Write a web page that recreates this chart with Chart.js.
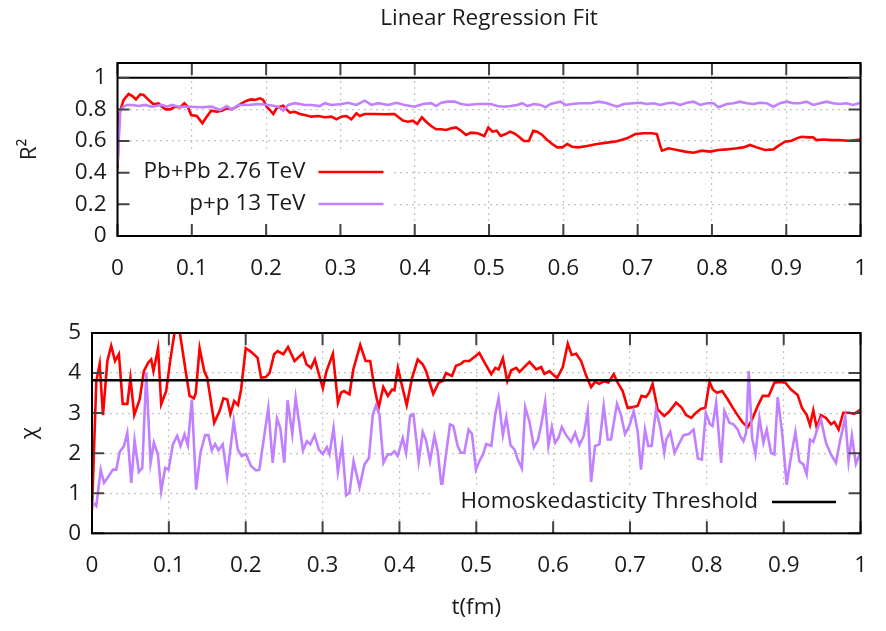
<!DOCTYPE html>
<html>
<head>
<meta charset="utf-8">
<title>Linear Regression Fit</title>
<script src="https://cdn.jsdelivr.net/npm/chart.js@4.4.1/dist/chart.umd.min.js"></script>
<style>
  html, body { margin: 0; padding: 0; background: #fff; }
  #wrap { position: relative; width: 886px; height: 631px; }
  #topBox { position: absolute; left: 0; top: 0; width: 886px; height: 300px; }
  #botBox { position: absolute; left: 0; top: 300px; width: 886px; height: 331px; }
</style>
</head>
<body>
<div id="wrap">
  <div id="topBox"><canvas id="r2Chart"></canvas></div>
  <div id="botBox"><canvas id="chiChart"></canvas></div>
</div>
<script>
// values, [t (fm), value]
const xTicks = [0, 0.1, 0.2, 0.3, 0.4, 0.5, 0.6, 0.7, 0.8, 0.9, 1];
const r2Ticks = [0, 0.2, 0.4, 0.6, 0.8, 1];
const chiTicks = [0, 1, 2, 3, 4, 5];

const r2Reference = 1;
const chiThreshold = 3.82;

const pbpbR2 = [
  [0,0.42],[0.0025,0.775],[0.0083,0.86],[0.015,0.897],[0.02,0.884],[0.0248,0.863],[0.0306,0.895],[0.0351,0.891],
  [0.0418,0.86],[0.0485,0.832],[0.0553,0.838],[0.0597,0.817],[0.0651,0.8],[0.0709,0.8],[0.0776,0.817],[0.0843,0.813],
  [0.0901,0.838],[0.0946,0.817],[0.0991,0.764],[0.1067,0.758],[0.1143,0.712],[0.1201,0.754],[0.126,0.792],[0.1336,0.785],
  [0.1403,0.792],[0.147,0.807],[0.1537,0.8],[0.1604,0.817],[0.1671,0.838],[0.1738,0.855],[0.1796,0.863],[0.185,0.86],
  [0.1917,0.87],[0.1962,0.86],[0.2007,0.817],[0.2051,0.796],[0.2096,0.771],[0.2141,0.807],[0.2186,0.817],[0.223,0.823],
  [0.2275,0.8],[0.232,0.779],[0.2387,0.785],[0.2454,0.771],[0.2521,0.764],[0.261,0.754],[0.27,0.758],[0.279,0.75],
  [0.288,0.754],[0.2946,0.737],[0.3013,0.754],[0.308,0.758],[0.3148,0.737],[0.3215,0.775],[0.326,0.758],[0.3327,0.771],
  [0.346,0.771],[0.3595,0.769],[0.3729,0.771],[0.3783,0.75],[0.3841,0.729],[0.3908,0.722],[0.3975,0.729],[0.4034,0.708],
  [0.4096,0.75],[0.4154,0.722],[0.4221,0.695],[0.4289,0.674],[0.4356,0.674],[0.4423,0.67],[0.449,0.68],[0.4557,0.686],
  [0.4624,0.665],[0.4691,0.638],[0.4758,0.653],[0.4848,0.649],[0.4937,0.632],[0.4991,0.686],[0.5045,0.659],[0.5103,0.665],
  [0.5157,0.632],[0.5224,0.644],[0.5282,0.659],[0.5336,0.649],[0.5403,0.627],[0.547,0.6],[0.5537,0.6],[0.5595,0.665],
  [0.5649,0.659],[0.5716,0.638],[0.5784,0.606],[0.5851,0.581],[0.5918,0.56],[0.5985,0.56],[0.6052,0.581],[0.6119,0.564],
  [0.6208,0.56],[0.632,0.569],[0.6454,0.581],[0.6588,0.59],[0.6723,0.598],[0.6857,0.617],[0.6969,0.644],[0.7081,0.649],
  [0.7192,0.649],[0.7259,0.644],[0.7304,0.569],[0.7327,0.539],[0.7416,0.554],[0.7528,0.543],[0.764,0.533],[0.7752,0.526],
  [0.7864,0.539],[0.7975,0.533],[0.8087,0.543],[0.8199,0.547],[0.8333,0.554],[0.8423,0.56],[0.8512,0.575],[0.8602,0.56],
  [0.8714,0.543],[0.8826,0.547],[0.8893,0.569],[0.8982,0.596],[0.9072,0.602],[0.9139,0.617],[0.9206,0.627],[0.9295,0.623],
  [0.9362,0.623],[0.9407,0.606],[0.9497,0.61],[0.9609,0.606],[0.972,0.606],[0.9832,0.602],[0.9944,0.606],[1,0.61]
];

const ppR2 = [
  [0,0.45],[0.0038,0.796],[0.0083,0.817],[0.0128,0.828],[0.0195,0.828],[0.0284,0.821],[0.0374,0.828],[0.0463,0.817],
  [0.0597,0.828],[0.0664,0.817],[0.0732,0.828],[0.0821,0.817],[0.0955,0.817],[0.1134,0.813],[0.1268,0.817],[0.138,0.796],
  [0.147,0.821],[0.1537,0.8],[0.1626,0.828],[0.1761,0.828],[0.1895,0.834],[0.2029,0.828],[0.2119,0.821],[0.2163,0.817],
  [0.223,0.792],[0.2297,0.828],[0.2387,0.839],[0.2521,0.828],[0.261,0.828],[0.2722,0.821],[0.279,0.839],[0.288,0.828],
  [0.3013,0.834],[0.3103,0.842],[0.3215,0.828],[0.3327,0.855],[0.3416,0.828],[0.3506,0.839],[0.364,0.828],[0.3752,0.842],
  [0.3864,0.828],[0.3998,0.817],[0.411,0.834],[0.4221,0.839],[0.4289,0.821],[0.4356,0.842],[0.4445,0.849],[0.4535,0.849],
  [0.4624,0.834],[0.4714,0.828],[0.4848,0.834],[0.5022,0.834],[0.5112,0.821],[0.5201,0.817],[0.529,0.821],[0.538,0.828],
  [0.5447,0.839],[0.5515,0.821],[0.5604,0.834],[0.5694,0.828],[0.576,0.813],[0.5828,0.834],[0.5895,0.842],[0.5962,0.849],
  [0.6029,0.828],[0.6119,0.834],[0.623,0.839],[0.6365,0.839],[0.6477,0.849],[0.6588,0.839],[0.6723,0.817],[0.6812,0.834],
  [0.6946,0.839],[0.7036,0.842],[0.7125,0.834],[0.7215,0.839],[0.7304,0.828],[0.7394,0.839],[0.7483,0.842],[0.7573,0.828],
  [0.7662,0.842],[0.7752,0.849],[0.7841,0.828],[0.7931,0.839],[0.802,0.839],[0.8087,0.813],[0.8199,0.834],[0.8289,0.839],
  [0.8378,0.849],[0.8468,0.839],[0.8557,0.834],[0.8647,0.842],[0.8736,0.839],[0.8826,0.817],[0.8916,0.839],[0.9005,0.849],
  [0.9094,0.839],[0.9184,0.839],[0.9273,0.849],[0.9362,0.828],[0.9452,0.839],[0.9541,0.849],[0.9631,0.839],[0.972,0.834],
  [0.981,0.839],[0.9899,0.828],[1,0.842]
];

const pbpbChi = [
  [0,0.59],[0.0056,3.8],[0.01,4.23],[0.0143,2.95],[0.02,4.3],[0.025,4.68],[0.03,4.3],[0.035,4.47],[0.04,3.23],[0.046,3.23],
  [0.05,3.87],[0.055,2.95],[0.062,3.34],[0.0675,4.05],[0.073,4.26],[0.077,4.34],[0.08,4.05],[0.086,4.62],[0.09,3.22],
  [0.0965,3.55],[0.102,4.34],[0.108,5.09],[0.114,5.05],[0.1225,3.97],[0.127,3.43],[0.1325,3.37],[0.135,3.5],[0.14,4.62],
  [0.146,4.05],[0.15,3.88],[0.159,2.76],[0.166,3.05],[0.171,3.37],[0.176,3.34],[0.18,2.98],[0.185,3.3],[0.19,3.2],
  [0.194,3.59],[0.2,4.62],[0.207,4.53],[0.2155,4.38],[0.22,3.88],[0.226,3.9],[0.231,4.0],[0.237,4.47],[0.2415,4.55],
  [0.249,4.47],[0.255,4.65],[0.2636,4.3],[0.2745,4.5],[0.279,4.22],[0.285,4.13],[0.29,4.34],[0.2952,3.97],[0.3004,3.62],
  [0.3048,4.03],[0.3134,4.48],[0.32,3.26],[0.324,3.51],[0.328,3.55],[0.335,3.47],[0.34,4.09],[0.349,4.7],[0.356,4.3],
  [0.362,4.3],[0.3675,3.63],[0.373,3.13],[0.379,3.65],[0.385,3.43],[0.3905,3.59],[0.3935,3.57],[0.398,4.13],[0.4034,3.68],
  [0.4095,3.2],[0.4165,3.88],[0.4238,4.34],[0.4303,4.22],[0.4346,4.05],[0.444,3.48],[0.451,3.76],[0.4563,3.8],[0.4606,4.0],
  [0.4684,3.93],[0.4736,4.18],[0.48,4.23],[0.4844,4.3],[0.491,4.3],[0.4974,4.4],[0.504,4.5],[0.5108,4.26],[0.5195,3.97],
  [0.5247,4.13],[0.529,4.09],[0.5346,4.37],[0.5403,3.8],[0.5455,4.07],[0.552,4.13],[0.5563,4.03],[0.5693,4.28],[0.578,4.09],
  [0.5844,4.15],[0.5887,3.98],[0.5952,4.05],[0.5996,3.97],[0.6052,3.88],[0.6126,4.15],[0.619,4.73],[0.6242,4.45],[0.63,4.48],
  [0.6364,4.3],[0.643,3.93],[0.6494,3.65],[0.6545,3.78],[0.66,3.73],[0.6667,3.8],[0.6718,3.76],[0.6788,3.97],[0.684,3.76],
  [0.6905,3.55],[0.697,3.13],[0.7035,3.15],[0.71,3.18],[0.715,3.43],[0.7208,3.4],[0.725,3.51],[0.7294,3.73],[0.736,3.09],
  [0.7446,2.93],[0.7515,3.05],[0.76,3.26],[0.7667,3.15],[0.773,2.95],[0.7797,2.88],[0.786,3.01],[0.7926,3.11],[0.798,3.13],
  [0.8035,3.78],[0.8078,3.59],[0.813,3.51],[0.82,3.55],[0.8273,3.34],[0.8338,3.13],[0.8416,2.9],[0.8468,2.76],[0.8532,2.65],
  [0.8589,2.84],[0.8662,3.18],[0.8727,3.43],[0.8805,3.43],[0.8879,3.76],[0.8944,3.78],[0.9022,3.76],[0.9095,3.59],
  [0.9182,3.45],[0.9238,3.13],[0.93,2.95],[0.9342,2.7],[0.9385,3.07],[0.943,2.63],[0.9485,2.95],[0.955,2.88],[0.9615,2.72],
  [0.966,2.78],[0.9714,2.59],[0.9775,3.01],[0.9853,3.01],[0.9918,2.98],[1,3.09]
];

const ppChi = [
  [0,0.8],[0.0056,0.68],[0.0113,1.59],[0.0156,1.26],[0.0208,1.4],[0.0273,1.59],[0.0316,1.59],[0.036,2.03],[0.0416,2.18],
  [0.0459,2.51],[0.0511,1.26],[0.0554,2.32],[0.061,1.53],[0.0654,1.63],[0.0706,4.01],[0.0762,1.76],[0.0805,2.26],[0.0857,1.98],
  [0.09,1.05],[0.0952,1.63],[0.0996,1.59],[0.1052,2.22],[0.1108,2.43],[0.1152,2.18],[0.1203,2.47],[0.1247,2.2],[0.1299,3.34],
  [0.1355,1.09],[0.1411,2.01],[0.1472,2.45],[0.1515,2.45],[0.1558,2.07],[0.1602,2.23],[0.1645,2.07],[0.1701,2.22],[0.1758,1.43],
  [0.1844,2.8],[0.1896,2.09],[0.1948,1.93],[0.2004,1.98],[0.2069,1.68],[0.2134,1.57],[0.2177,1.59],[0.2294,3.13],[0.2351,1.76],
  [0.2407,2.87],[0.245,2.63],[0.2502,1.76],[0.2545,3.32],[0.2606,2.47],[0.265,3.38],[0.2745,2.07],[0.2797,2.3],[0.284,2.22],
  [0.2896,2.45],[0.2952,2.09],[0.3004,1.98],[0.3056,2.15],[0.309,1.98],[0.3143,2.63],[0.3199,1.53],[0.3255,2.22],[0.3307,0.95],
  [0.335,1.01],[0.3403,1.8],[0.3481,1.15],[0.3545,1.72],[0.3602,1.87],[0.3654,2.97],[0.3697,3.2],[0.374,2.95],[0.3792,1.76],
  [0.3848,1.97],[0.3892,1.97],[0.3935,2.05],[0.3978,1.93],[0.4043,2.38],[0.4087,2.01],[0.4139,2.93],[0.4182,2.97],[0.4251,1.8],
  [0.4303,2.53],[0.4346,2.32],[0.4398,1.8],[0.4455,2.43],[0.4498,2.05],[0.455,1.12],[0.4606,1.97],[0.4658,2.72],[0.4701,2.68],
  [0.4758,2.18],[0.48,2.01],[0.4844,2.01],[0.49,2.59],[0.4944,2.48],[0.4996,1.59],[0.504,1.8],[0.5087,1.97],[0.513,2.23],
  [0.5195,2.18],[0.5247,2.97],[0.529,3.37],[0.5346,2.45],[0.539,2.9],[0.5446,2.2],[0.5498,2.09],[0.5541,1.84],[0.5593,1.62],
  [0.5636,3.15],[0.5693,2.78],[0.5749,2.15],[0.5801,2.32],[0.5844,2.7],[0.5896,3.28],[0.5939,2.18],[0.5983,2.65],[0.6026,2.26],
  [0.6069,2.38],[0.6113,2.65],[0.6169,2.45],[0.6234,2.28],[0.6286,2.51],[0.6342,2.2],[0.6398,2.43],[0.645,3.05],[0.6494,1.28],
  [0.6545,2.18],[0.6602,2.22],[0.6658,3.18],[0.671,2.34],[0.6753,2.34],[0.6831,3.23],[0.6883,2.95],[0.6935,2.48],[0.6991,2.68],
  [0.7048,3.05],[0.71,2.55],[0.7143,1.59],[0.7195,2.59],[0.7238,2.18],[0.7281,2.18],[0.7338,3.09],[0.7394,2.65],[0.7446,2.01],
  [0.7472,2.34],[0.7524,2.53],[0.758,2.01],[0.7645,2.26],[0.7697,2.45],[0.7766,2.48],[0.7827,2.59],[0.7883,1.87],[0.7935,1.84],
  [0.7987,3.01],[0.8039,2.73],[0.8074,2.68],[0.8121,3.26],[0.8186,1.76],[0.8229,3.05],[0.8294,2.76],[0.8346,2.72],[0.8403,2.59],
  [0.8433,2.43],[0.8476,2.3],[0.8511,2.51],[0.8545,4.05],[0.8589,2.38],[0.8632,1.97],[0.8684,2.88],[0.8736,2.26],[0.8779,2.59],
  [0.8835,2.01],[0.8879,1.97],[0.8922,3.4],[0.8978,2.53],[0.9039,1.22],[0.9082,1.76],[0.9152,2.53],[0.9203,1.8],[0.9255,1.72],
  [0.9299,1.47],[0.9342,2.34],[0.9385,2.28],[0.9442,2.63],[0.9485,2.84],[0.955,2.26],[0.9615,1.97],[0.968,1.76],[0.9732,2.3],
  [0.9801,2.9],[0.9844,1.8],[0.9887,2.43],[0.9939,1.73],[1,2.03]
];

const FONT = "'Open Sans', sans-serif";
const FSIZE = 22.5;
const TEXT = '#1a1a1a';
const RED = '#ff0000';
const PURPLE = '#c080ff';

const toXY = arr => arr.map(p => ({ x: p[0], y: p[1] }));
const flat = v => [{ x: xTicks[0], y: v }, { x: xTicks[xTicks.length - 1], y: v }];

// gnuplot look: inward ticks on all 4 sides, black frame, opaque key box
const gnuplotFrame = {
  id: 'gnuplotFrame',
  afterDatasetsDraw(chart, args, opts) {
    const { ctx, chartArea: a, scales } = chart;
    ctx.save();

    // key
    const k = opts.key;
    if (k) {
      ctx.fillStyle = '#fff';
      ctx.fillRect(a.left + k.box[0], a.top + k.box[1], k.box[2] - k.box[0], k.box[3] - k.box[1]);
      ctx.font = FSIZE + 'px ' + FONT;
      ctx.textAlign = 'right';
      ctx.textBaseline = 'middle';
      const entries = chart.data.datasets.filter(ds => ds.keyRank !== undefined)
        .sort((p, q) => p.keyRank - q.keyRank);
      entries.forEach((ds, row) => {
        const y = a.top + k.rowTop + row * k.rowGap;
        ctx.fillStyle = TEXT;
        ctx.fillText(ds.label, a.left + k.textRight, y);
        ctx.strokeStyle = ds.borderColor;
        ctx.lineWidth = ds.borderWidth;
        ctx.beginPath();
        ctx.moveTo(a.left + k.lineFrom, y);
        ctx.lineTo(a.left + k.lineTo, y);
        ctx.stroke();
      });
    }

    // inward ticks
    const len = 12;
    ctx.strokeStyle = '#444';
    ctx.lineWidth = 2;
    ctx.beginPath();
    scales.x.ticks.forEach(t => {
      const px = scales.x.getPixelForValue(t.value);
      ctx.moveTo(px, a.bottom); ctx.lineTo(px, a.bottom - len);
      ctx.moveTo(px, a.top); ctx.lineTo(px, a.top + len);
    });
    scales.y.ticks.forEach(t => {
      const py = scales.y.getPixelForValue(t.value);
      ctx.moveTo(a.left, py); ctx.lineTo(a.left + len, py);
      ctx.moveTo(a.right, py); ctx.lineTo(a.right - len, py);
    });
    ctx.stroke();

    ctx.strokeStyle = '#000';
    ctx.lineWidth = 2;
    ctx.strokeRect(a.left, a.top, a.right - a.left, a.bottom - a.top);
    ctx.restore();
  }
};

function xAxis(height, withTitle) {
  return {
    type: 'linear', min: xTicks[0], max: xTicks[xTicks.length - 1],
    afterBuildTicks: s => { s.ticks = xTicks.map(v => ({ value: v })); },
    afterFit: s => { s.height = height; },
    ticks: {
      color: TEXT, font: { family: FONT, size: FSIZE }, padding: 19, maxRotation: 0, autoSkip: false,
      callback: v => String(Math.round(v * 10) / 10)
    },
    grid: { color: '#c4c4c4', lineWidth: 1.2, drawTicks: false },
    border: { display: false, dash: [2, 4] },
    title: withTitle ? { display: true, text: 't(fm)', color: TEXT, font: { family: FONT, size: FSIZE }, padding: { top: 0, bottom: 10 } } : { display: false }
  };
}

function yAxis(min, max, tickList, label) {
  return {
    min: min, max: max,
    afterBuildTicks: s => { s.ticks = tickList.map(v => ({ value: v })); },
    afterFit: s => { s.width = label.width; },
    ticks: { color: TEXT, font: { family: FONT, size: FSIZE }, padding: 11, callback: v => String(v) },
    grid: { color: '#c4c4c4', lineWidth: 1.2, drawTicks: false },
    border: { display: false, dash: [2, 4] },
    title: { display: true, text: label.text, color: TEXT, font: { family: FONT, size: FSIZE }, padding: { top: 16, bottom: 0 } }
  };
}

const lineDefaults = { pointRadius: 0, tension: 0, fill: false };

new Chart(document.getElementById('r2Chart'), {
  type: 'line',
  data: {
    datasets: [
      { ...lineDefaults, label: 'R2=1', data: flat(r2Reference), borderColor: '#000', borderWidth: 2, order: 0 },
      { ...lineDefaults, label: 'p+p 13 TeV', data: toXY(ppR2), borderColor: PURPLE, borderWidth: 2.6, order: 1, keyRank: 2 },
      { ...lineDefaults, label: 'Pb+Pb 2.76 TeV', data: toXY(pbpbR2), borderColor: RED, borderWidth: 2.6, order: 2, keyRank: 1 }
    ]
  },
  options: {
    responsive: true, maintainAspectRatio: false, animation: false,
    layout: { padding: { left: 0, right: 25, top: 0, bottom: 0 } },
    scales: {
      x: xAxis(64, false),
      y: yAxis(0, 1.093, r2Ticks, { text: 'R²', width: 117.5 })
    },
    plugins: {
      legend: { display: false },
      tooltip: { enabled: false },
      title: {
        display: true, text: 'Linear Regression Fit', fullSize: false, color: TEXT,
        font: { family: FONT, size: FSIZE, weight: 'normal' }, padding: { top: 5, bottom: 31 }
      },
      gnuplotFrame: {
        key: { box: [3, 88, 272, 163], rowTop: 109, rowGap: 32, textRight: 188, lineFrom: 201, lineTo: 266 }
      }
    }
  },
  plugins: [gnuplotFrame]
});

new Chart(document.getElementById('chiChart'), {
  type: 'line',
  data: {
    datasets: [
      { ...lineDefaults, label: 'Homoskedasticity Threshold', data: flat(chiThreshold), borderColor: '#000', borderWidth: 2.6, order: 0, keyRank: 1 },
      { ...lineDefaults, label: 'p+p 13 TeV', data: toXY(ppChi), borderColor: PURPLE, borderWidth: 2.6, order: 1 },
      { ...lineDefaults, label: 'Pb+Pb 2.76 TeV', data: toXY(pbpbChi), borderColor: RED, borderWidth: 2.6, order: 2 }
    ]
  },
  options: {
    responsive: true, maintainAspectRatio: false, animation: false,
    layout: { padding: { left: 0, right: 24, top: 33, bottom: 0 } },
    scales: {
      x: xAxis(97.7, true),
      y: yAxis(0, 5, chiTicks, { text: 'χ', width: 92 })
    },
    plugins: {
      legend: { display: false },
      tooltip: { enabled: false },
      gnuplotFrame: {
        key: { box: [340, 152, 766, 186], rowTop: 169, rowGap: 32, textRight: 666, lineFrom: 680, lineTo: 744 }
      }
    }
  },
  plugins: [gnuplotFrame]
});
</script>
</body>
</html>
